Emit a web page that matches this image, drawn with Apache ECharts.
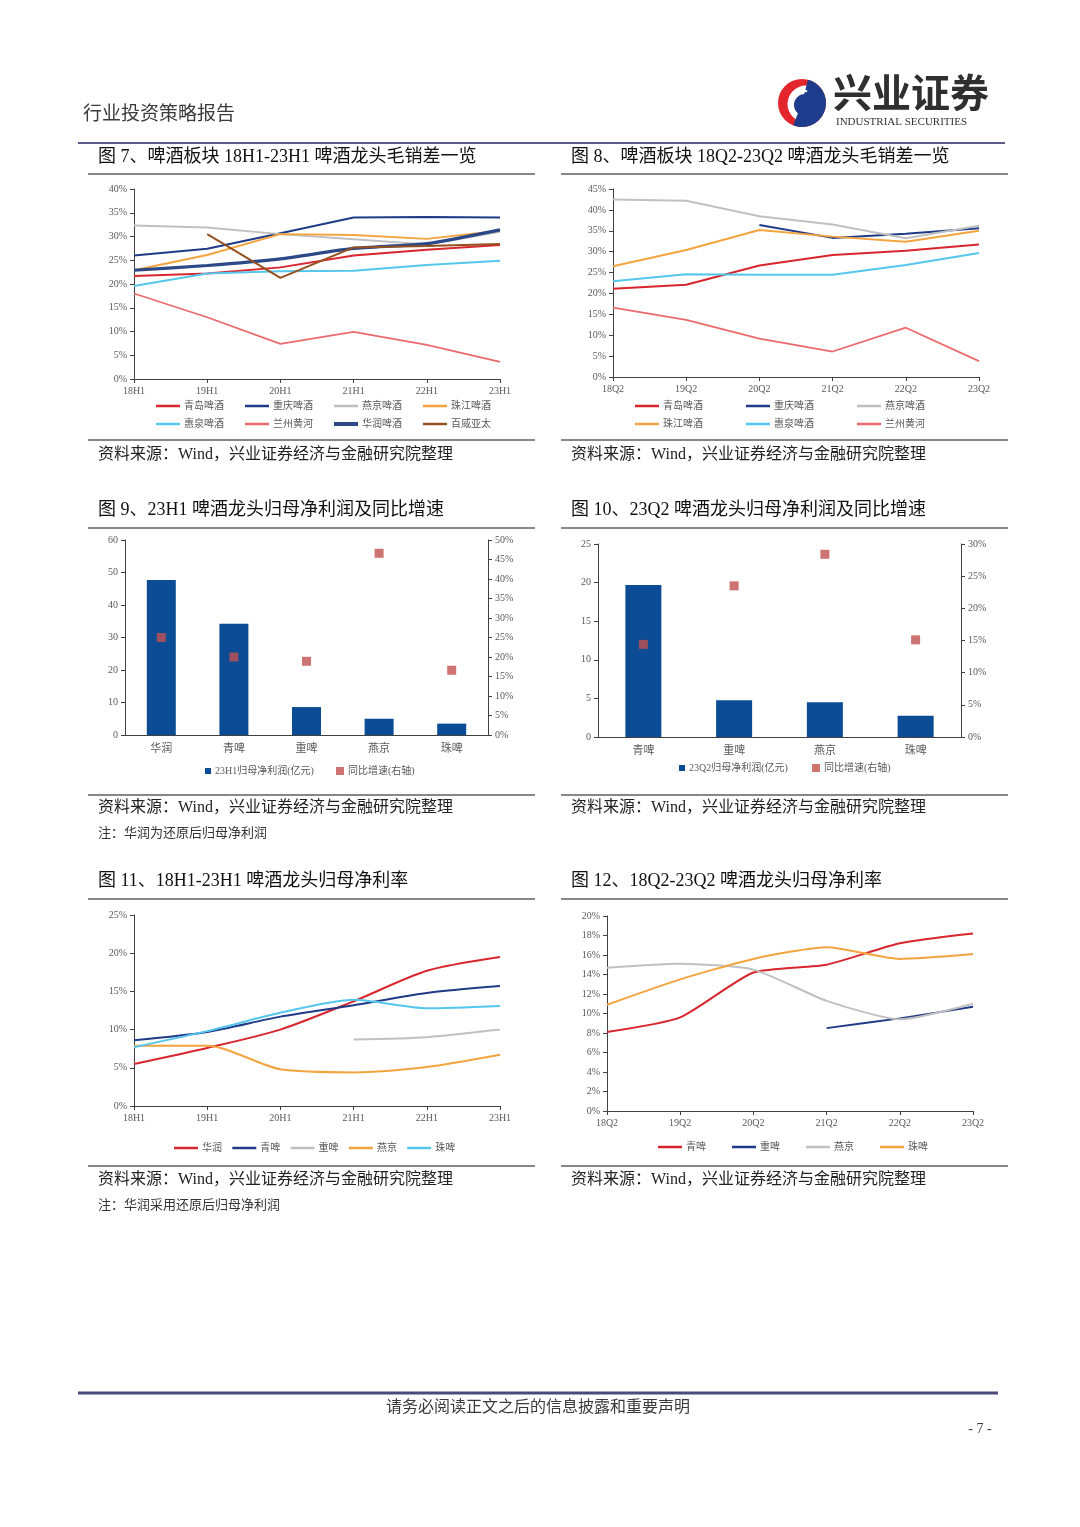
<!DOCTYPE html>
<html><head><meta charset="utf-8">
<script src="https://cdn.jsdelivr.net/npm/echarts@6/dist/echarts.min.js"></script>
<style>html,body{margin:0;padding:0;background:#fff}#c{width:1080px;height:1527px}</style>
</head><body><div id="c"></div>
<script>
// ---------- data ----------
const halfCats = ['18H1','19H1','20H1','21H1','22H1','23H1'];
const quarterCats = ['18Q2','19Q2','20Q2','21Q2','22Q2','23Q2'];

// Fig 7: 18H1-23H1 gross-minus-selling margin (%)
const f7_qingdao   = [21.7,22.2,23.5,26.0,27.2,28.2];
const f7_chongqing = [26.0,27.4,30.7,34.0,34.1,34.0];
const f7_yanjing   = [32.3,31.9,30.5,29.4,28.3,31.0];
const f7_zhujiang  = [22.9,26.1,30.5,30.3,29.5,31.2];
const f7_huiquan   = [19.6,22.2,22.7,22.8,24.0,24.9];
const f7_lanzhou   = [18.0,13.0,7.4,9.9,7.2,3.6];
const f7_huarun    = [22.9,23.9,25.3,27.5,28.5,31.4];
const f7_budweiser = [null,30.5,21.3,27.7,28.0,28.4];

// Fig 8: 18Q2-23Q2 gross-minus-selling margin (%)
const f8_qingdao   = [21.1,22.1,26.7,29.2,30.2,31.7];
const f8_chongqing = [null,null,36.4,33.3,34.3,35.6];
const f8_yanjing   = [42.5,42.2,38.5,36.5,33.2,36.2];
const f8_zhujiang  = [26.5,30.4,35.2,33.6,32.4,35.0];
const f8_huiquan   = [22.9,24.6,24.5,24.5,26.8,29.7];
const f8_lanzhou   = [16.6,13.7,9.2,6.1,11.8,3.8];

// Fig 9: 23H1 net profit (100m CNY) and YoY (%)
const f9_cats   = ['华润','青啤','重啤','燕京','珠啤'];
const f9_profit = [47.7,34.2,8.6,5.0,3.5];
const f9_growth = [25.0,20.0,18.9,46.6,16.6];

// Fig 10: 23Q2 net profit (100m CNY) and YoY (%)
const f10_cats   = ['青啤','重啤','燕京','珠啤'];
const f10_profit = [19.7,4.75,4.5,2.76];
const f10_growth = [14.4,23.5,28.4,15.1];

// Fig 11: 18H1-23H1 net margin (%)
const f11_huarun  = [5.5,7.6,10.0,13.7,17.7,19.5];
const f11_qingpi  = [8.6,9.7,11.7,13.2,14.8,15.7];
const f11_chongpi = [null,null,null,8.7,9.0,10.0];
const f11_yanjing = [7.9,7.9,4.8,4.4,5.1,6.7];
const f11_zhupi   = [7.7,9.8,12.2,13.9,12.8,13.1];

// Fig 12: 18Q2-23Q2 net margin (%)
const f12_qingpi  = [8.1,9.6,14.2,15.0,17.2,18.2];
const f12_chongpi = [null,null,null,8.5,9.5,10.7];
const f12_yanjing = [14.7,15.1,14.5,11.3,9.4,11.0];
const f12_zhupi   = [10.9,13.5,15.6,16.8,15.6,16.1];

// ---------- styling ----------
const SERIF = '"Liberation Serif","Noto Sans CJK SC",serif';
const CJK = '"Liberation Serif","Noto Sans CJK SC",sans-serif';
const LBL = '#595959';
const AX = '#404040';
const C = {
  red:'#d9262e', navy:'#1f3a86', gray:'#c0c0c0', orange:'#f4a43f',
  cyan:'#55c6ec', pink:'#ec6a6c', slate:'#2c4887', brown:'#94501f',
  bar:'#0b4c94', dot:'#c0504d'
};

const chart = echarts.init(document.getElementById('c'), null, {renderer:'canvas'});

const grids = [
  {left:134, top:189, width:366, height:190},
  {left:613, top:189, width:366, height:188},
  {left:125, top:540, width:363, height:195},
  {left:598, top:544, width:363, height:193},
  {left:134, top:915, width:366, height:191},
  {left:607, top:916, width:366, height:195}
];

function catAxis(gi, data, gap) {
  return {type:'category', gridIndex:gi, data, boundaryGap:gap,
    axisLine:{show:true, lineStyle:{color:AX, width:1}},
    axisTick:{show:!gap, length:4, alignWithLabel:true, lineStyle:{color:AX}},
    axisLabel:{color:LBL, fontSize:gap?11:10, fontFamily:CJK, margin:gap?9:7},
    splitLine:{show:false}};
}
function valAxis(gi, max, interval, pct, pos) {
  return {type:'value', gridIndex:gi, min:0, max, interval, position:pos||'left',
    axisLine:{show:true, lineStyle:{color:AX, width:1}},
    axisTick:{show:true, length:4, lineStyle:{color:AX}},
    axisLabel:{color:LBL, fontSize:10, fontFamily:SERIF, margin:7,
      formatter: pct ? '{value}%' : '{value}'},
    splitLine:{show:false}};
}
function lineS(name, data, color, width, xi, yi, smooth) {
  return {type:'line', name, data, xAxisIndex:xi, yAxisIndex:yi, symbol:'none',
    smooth: smooth || false, lineStyle:{color, width}, itemStyle:{color}, connectNulls:false};
}
function legItem(name, left, y, icon, w, h) {
  return {data:[name], left, top:y-6, icon, itemWidth:w, itemHeight:h, padding:0,
    selectedMode:false, formatter:n=>n.split('#')[0],
    textStyle:{color:LBL, fontSize:10, fontFamily:CJK, padding:[0,0,0,-1]}};
}

const xAxes = [
  catAxis(0, halfCats, false), catAxis(1, quarterCats, false),
  catAxis(2, f9_cats, true), catAxis(3, f10_cats, true),
  catAxis(4, halfCats, false), catAxis(5, quarterCats, false)
];
const yAxes = [
  valAxis(0, 40, 5, true),
  valAxis(1, 45, 5, true),
  valAxis(2, 60, 10, false),
  valAxis(2, 50, 5, true, 'right'),
  valAxis(3, 25, 5, false),
  valAxis(3, 30, 5, true, 'right'),
  valAxis(4, 25, 5, true),
  valAxis(5, 20, 2, true)
];

const series = [
  // fig 7
  lineS('青岛啤酒#7', f7_qingdao, C.red, 2, 0, 0),
  lineS('重庆啤酒#7', f7_chongqing, C.navy, 2, 0, 0),
  lineS('燕京啤酒#7', f7_yanjing, C.gray, 2, 0, 0),
  lineS('珠江啤酒#7', f7_zhujiang, C.orange, 2, 0, 0),
  lineS('惠泉啤酒#7', f7_huiquan, C.cyan, 2, 0, 0),
  lineS('兰州黄河#7', f7_lanzhou, C.pink, 1.8, 0, 0),
  lineS('华润啤酒#7', f7_huarun, C.slate, 3.2, 0, 0, 0.2),
  lineS('百威亚太#7', f7_budweiser, C.brown, 2, 0, 0),
  // fig 8
  lineS('青岛啤酒#8', f8_qingdao, C.red, 2, 1, 1),
  lineS('重庆啤酒#8', f8_chongqing, C.navy, 2, 1, 1),
  lineS('燕京啤酒#8', f8_yanjing, C.gray, 2, 1, 1),
  lineS('珠江啤酒#8', f8_zhujiang, C.orange, 2, 1, 1),
  lineS('惠泉啤酒#8', f8_huiquan, C.cyan, 2, 1, 1),
  lineS('兰州黄河#8', f8_lanzhou, C.pink, 1.8, 1, 1),
  // fig 9
  {type:'bar', name:'23H1归母净利润(亿元)#9', data:f9_profit, xAxisIndex:2, yAxisIndex:2,
    barWidth:29, itemStyle:{color:C.bar}},
  {type:'scatter', name:'同比增速(右轴)#9', data:f9_growth, xAxisIndex:2, yAxisIndex:3,
    symbol:'rect', symbolSize:9, itemStyle:{color:C.dot}},
  // fig 10
  {type:'bar', name:'23Q2归母净利润(亿元)#10', data:f10_profit, xAxisIndex:3, yAxisIndex:4,
    barWidth:36, itemStyle:{color:C.bar}},
  {type:'scatter', name:'同比增速(右轴)#10', data:f10_growth, xAxisIndex:3, yAxisIndex:5,
    symbol:'rect', symbolSize:9, itemStyle:{color:C.dot}},
  // fig 11
  lineS('华润#11', f11_huarun, C.red, 2, 4, 6, 0.25),
  lineS('青啤#11', f11_qingpi, C.navy, 2, 4, 6, 0.25),
  lineS('重啤#11', f11_chongpi, C.gray, 2, 4, 6, 0.25),
  lineS('燕京#11', f11_yanjing, C.orange, 2, 4, 6, 0.25),
  lineS('珠啤#11', f11_zhupi, C.cyan, 2, 4, 6, 0.25),
  // fig 12
  lineS('青啤#12', f12_qingpi, C.red, 2, 5, 7, 0.2),
  lineS('重啤#12', f12_chongpi, C.navy, 2, 5, 7, 0.2),
  lineS('燕京#12', f12_yanjing, C.gray, 2, 5, 7, 0.2),
  lineS('珠啤#12', f12_zhupi, C.orange, 2, 5, 7, 0.2)
];

// legends, one per item
const legends = [];
[['青岛啤酒#7','重庆啤酒#7','燕京啤酒#7','珠江啤酒#7'],
 ['惠泉啤酒#7','兰州黄河#7','华润啤酒#7','百威亚太#7']].forEach((row, r) => {
  row.forEach((n, i) => legends.push(legItem(n, 156 + i*89, 407 + r*18, 'rect', 24, n.startsWith('华润') ? 4 : 2.5)));
});
[['青岛啤酒#8','重庆啤酒#8','燕京啤酒#8'],
 ['珠江啤酒#8','惠泉啤酒#8','兰州黄河#8']].forEach((row, r) => {
  row.forEach((n, i) => legends.push(legItem(n, 635 + i*111, 407 + r*18, 'rect', 24, 2.5)));
});
legends.push(legItem('23H1归母净利润(亿元)#9', 205, 772, 'rect', 6, 6));
legends.push(legItem('同比增速(右轴)#9', 336, 772, 'rect', 8, 8));
legends.push(legItem('23Q2归母净利润(亿元)#10', 679, 769, 'rect', 6, 6));
legends.push(legItem('同比增速(右轴)#10', 812, 769, 'rect', 8, 8));
['华润#11','青啤#11','重啤#11','燕京#11','珠啤#11'].forEach((n, i) =>
  legends.push(legItem(n, 174 + i*58.3, 1149, 'rect', 24, 2.5)));
['青啤#12','重啤#12','燕京#12','珠啤#12'].forEach((n, i) =>
  legends.push(legItem(n, 658 + i*74, 1148, 'rect', 24, 2.5)));

// ---------- page graphics ----------
function txt(text, x, y, size, opt) {
  opt = opt || {};
  return {type:'text', x, y, silent:true, style:{text, fill:opt.fill||'#1a1a1a',
    font:(opt.weight||'normal') + ' ' + size + 'px ' + (opt.family||CJK),
    align:opt.align||'left', verticalAlign:'middle'}};
}
function hline(x1, x2, y, color, w) {
  return {type:'line', silent:true, shape:{x1, y1:y, x2, y2:y}, style:{stroke:color, lineWidth:w}};
}
const RULE = '#5e5e66';
const NAVY_LOGO = '#1d3d8c', RED_LOGO = '#e2262b';
const g = [];
// header
g.push(txt('行业投资策略报告', 83, 115, 19, {fill:'#3a3a3a'}));
g.push({type:'group', x:802, y:103, silent:true, children:[
  {type:'circle', shape:{cx:0, cy:0, r:24}, style:{fill:RED_LOGO}},
  {type:'circle', shape:{cx:4, cy:1, r:18.5}, style:{fill:'#ffffff'}},
  {type:'sector', shape:{cx:0, cy:0, r:24, r0:0, startAngle:-Math.PI*0.42, endAngle:Math.PI*0.62}, style:{fill:NAVY_LOGO}},
  {type:'circle', shape:{cx:3, cy:2, r:11}, style:{fill:NAVY_LOGO}},
  {type:'arc', shape:{cx:3, cy:2, r:14, startAngle:Math.PI*0.95, endAngle:Math.PI*1.55}, style:{stroke:'#ffffff', lineWidth:2, fill:null}}
]});
g.push(txt('兴业证券', 833, 97, 39, {weight:'bold', fill:'#2f2f2f'}));
g.push(txt('INDUSTRIAL SECURITIES', 836, 122, 11, {family:SERIF, fill:'#333'}));
g.push(hline(78, 1005, 143, '#5b5b8c', 2));

// panels
const panels = [
  {x:88, x2:535, title:'图 7、啤酒板块 18H1-23H1 啤酒龙头毛销差一览', ty:157, r1:174, r2:440, sy:455},
  {x:561, x2:1008, title:'图 8、啤酒板块 18Q2-23Q2 啤酒龙头毛销差一览', ty:157, r1:174, r2:440, sy:455},
  {x:88, x2:535, title:'图 9、23H1 啤酒龙头归母净利润及同比增速', ty:510, r1:528, r2:795, sy:808, note:'注：华润为还原后归母净利润', ny:834},
  {x:561, x2:1008, title:'图 10、23Q2 啤酒龙头归母净利润及同比增速', ty:510, r1:528, r2:795, sy:808},
  {x:88, x2:535, title:'图 11、18H1-23H1 啤酒龙头归母净利率', ty:881, r1:899, r2:1166, sy:1180, note:'注：华润采用还原后归母净利润', ny:1206},
  {x:561, x2:1008, title:'图 12、18Q2-23Q2 啤酒龙头归母净利率', ty:881, r1:899, r2:1166, sy:1180}
];
panels.forEach(p => {
  g.push(txt(p.title, p.x + 10, p.ty, 18, {fill:'#111'}));
  g.push(hline(p.x, p.x2, p.r1, RULE, 1.5));
  g.push(hline(p.x, p.x2, p.r2, RULE, 1.5));
  g.push(txt('资料来源：Wind，兴业证券经济与金融研究院整理', p.x + 10, p.sy, 16, {fill:'#222'}));
  if (p.note) g.push(txt(p.note, p.x + 10, p.ny, 13, {fill:'#333'}));
});

// footer
g.push(hline(78, 998, 1393, '#4a4a7c', 3));
g.push(txt('请务必阅读正文之后的信息披露和重要声明', 538, 1408, 16, {fill:'#3a3a3a', align:'center'}));
g.push(txt('- 7 -', 980, 1429, 14, {fill:'#3a3a3a', align:'center', family:SERIF}));

chart.setOption({
  animation:false,
  backgroundColor:'#ffffff',
  grid:grids,
  xAxis:xAxes,
  yAxis:yAxes,
  legend:legends,
  series,
  graphic:g
});
</script>
</body></html>
